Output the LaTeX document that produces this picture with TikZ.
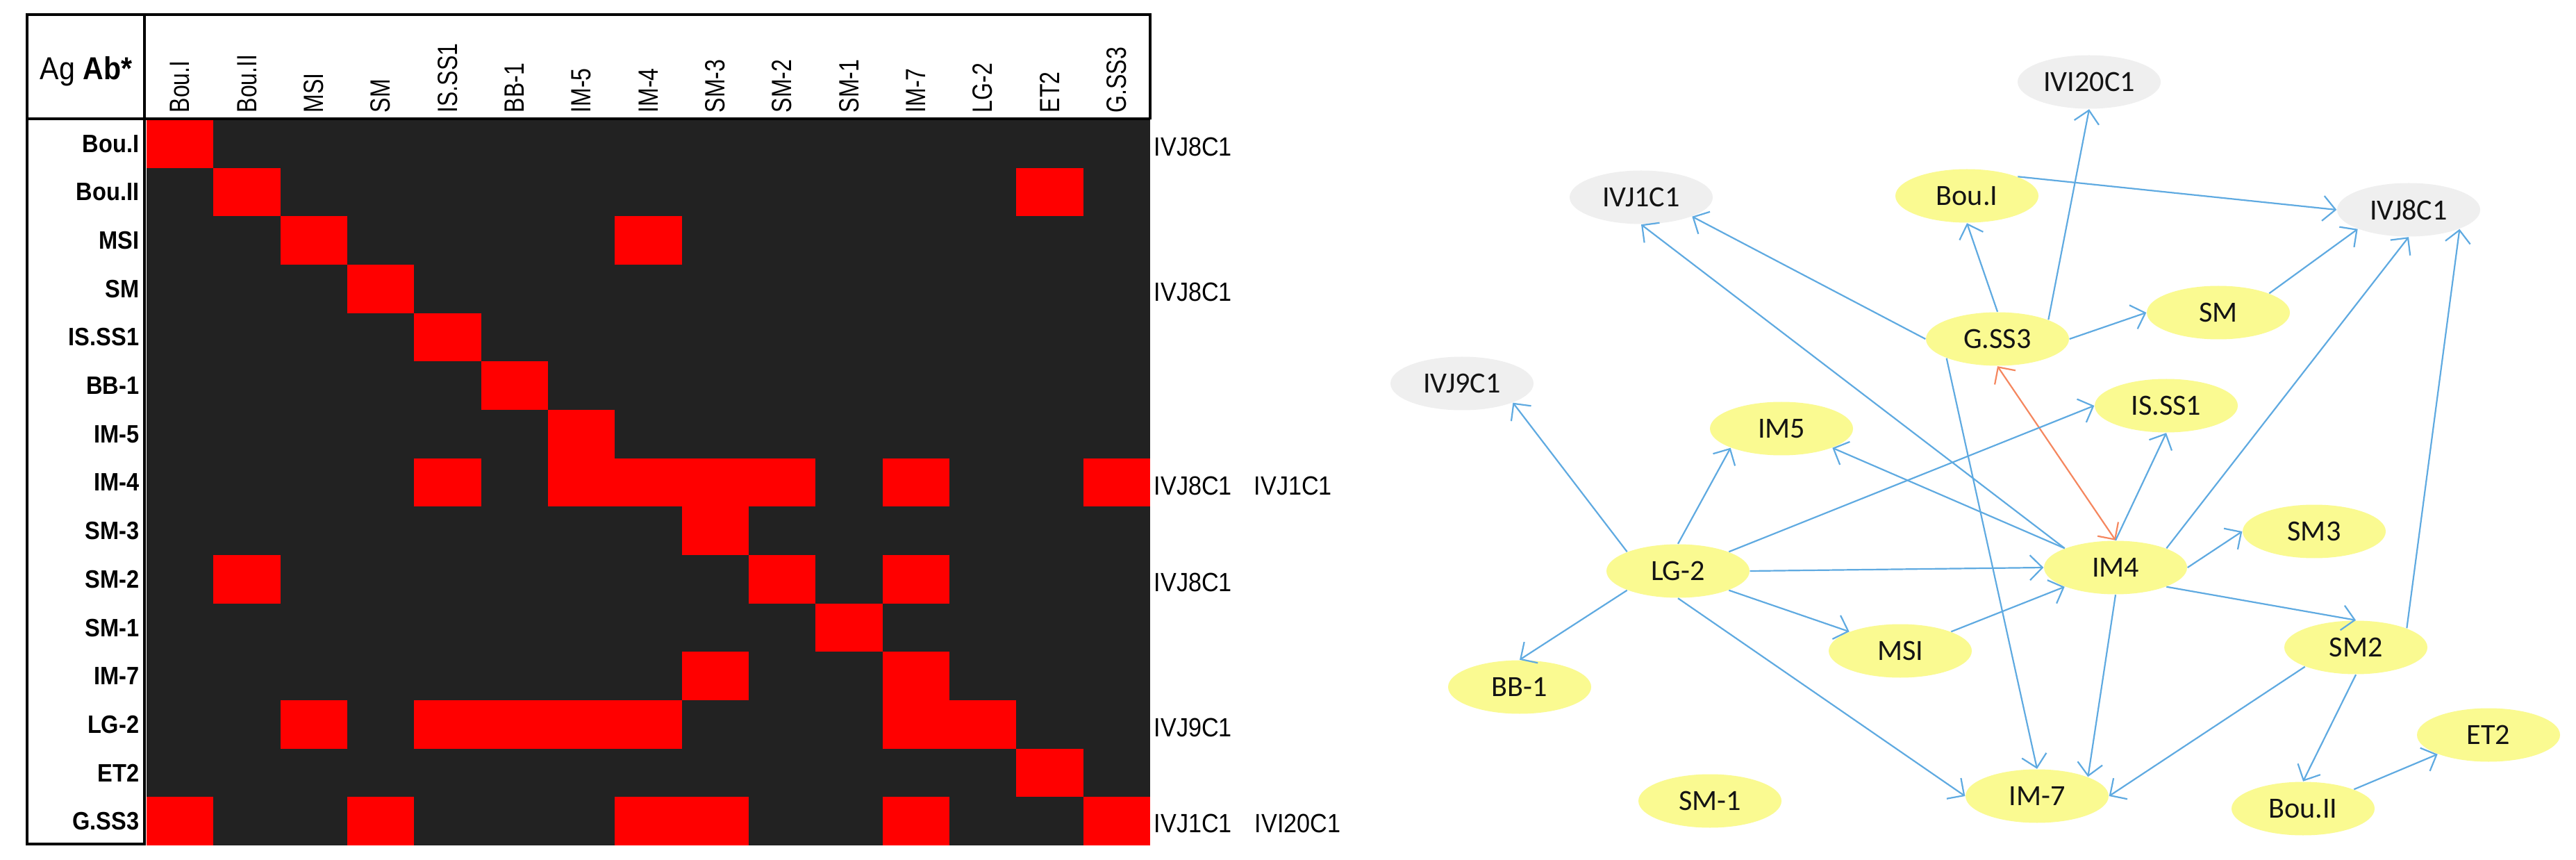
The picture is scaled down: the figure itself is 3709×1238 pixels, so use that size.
\documentclass[tikz,border=0pt]{standalone}
\usepackage{fontspec}
\setmainfont{Liberation Sans}
\newfontfamily\mtxfont[FakeStretch=0.9]{Liberation Sans}
\newfontfamily\hdrfont[FakeStretch=0.8]{Liberation Sans}
\newfontfamily\grfont{Carlito}
\usetikzlibrary{arrows.meta,shapes.geometric}
\definecolor{gridgray}{RGB}{34,34,34}
\definecolor{cellred}{RGB}{255,0,0}
\definecolor{ylw}{RGB}{250,250,145}
\definecolor{lgray}{RGB}{239,239,239}
\definecolor{eblue}{RGB}{95,170,225}
\definecolor{orng}{RGB}{245,135,95}
\tikzset{
  hdr/.style={inner sep=0pt, font=\hdrfont\fontsize{11.4pt}{12pt}\selectfont},
  rowlbl/.style={inner sep=0pt, font=\mtxfont\bfseries\fontsize{10.3pt}{11pt}\selectfont},
  rlbl/.style={inner sep=0pt, anchor=west, font=\mtxfont\fontsize{10.8pt}{11pt}\selectfont},
  gnode/.style={ellipse, fill=ylw, minimum width=20.6mm, minimum height=7.7mm, inner sep=0pt,
    text=black!92, font=\grfont\fontsize{12pt}{13pt}\selectfont},
  anode/.style={gnode, fill=lgray},
  lnk/.style={draw=eblue, line width=0.22mm, -{Straight Barb[length=1.8mm,width=3.6mm]}},
  olnk/.style={draw=orng, line width=0.22mm, {Straight Barb[length=1.8mm,width=3.6mm]}-{Straight Barb[length=1.8mm,width=3.6mm]}},
  frame/.style={line width=0.35mm, black}
}
\begin{document}
\begin{tikzpicture}[x=0.1mm, y=-0.1mm]
\useasboundingbox (0,0) rectangle (3709,1238);
\fill[white] (0,0) rectangle (3709,1238);

% ---------- matrix ----------
\fill[gridgray] (211,172) rectangle (1656,1217);
\foreach \r/\c in {0/0, 1/1, 1/13, 2/2, 2/7, 3/3, 4/4, 5/5, 6/6,
  7/4, 7/6, 7/7, 7/8, 7/9, 7/11, 7/14, 8/8, 9/1, 9/9, 9/11, 10/10,
  11/8, 11/11, 12/2, 12/4, 12/5, 12/6, 12/7, 12/11, 12/12, 13/13,
  14/0, 14/3, 14/7, 14/8, 14/11, 14/14}
  \fill[cellred] ({211+\c*96.33},{172+\r*69.67}) rectangle ++(96.33,69.67);
\draw[frame] (1656,172) -- (1656,21) -- (39,21) -- (39,1215) -- (208,1215) -- (208,21);
\draw[frame] (39,171) -- (1656,171);

\node[inner sep=0pt, anchor=base west, font=\mtxfont\fontsize{13pt}{14pt}\selectfont] (agab) at (57,115) {Ag \textbf{Ab*}};

\foreach \t [count=\i from 0] in {Bou.I,Bou.II,MSI,SM,IS.SS1,BB-1,IM-5,IM-4,SM-3,SM-2,SM-1,IM-7,LG-2,ET2,G.SS3}
  \node[hdr, rotate=90, anchor=west] (col\i) at ({211+(\i+0.5)*96.33},163) {\t};

\foreach \t [count=\i from 0] in {Bou.I,Bou.II,MSI,SM,IS.SS1,BB-1,IM-5,IM-4,SM-3,SM-2,SM-1,IM-7,LG-2,ET2,G.SS3}
  \node[rowlbl, anchor=east] (row\i) at (201,{172+(\i+0.5)*69.67}) {\t};

\node[rlbl] (rl0) at (1661,211) {IVJ8C1};
\node[rlbl] (rl3) at (1661,420) {IVJ8C1};
\node[rlbl] (rl7a) at (1661,699) {IVJ8C1};
\node[rlbl] (rl7b) at (1805,699) {IVJ1C1};
\node[rlbl] (rl9) at (1661,838) {IVJ8C1};
\node[rlbl] (rl12) at (1661,1047) {IVJ9C1};
\node[rlbl] (rl14a) at (1661,1185) {IVJ1C1};
\node[rlbl] (rl14b) at (1806,1185) {IVI20C1};

% ---------- graph ----------
\node[anode] (IVI20) at (3008,118) {IVI20C1};
\node[anode] (IVJ1) at (2363,284) {IVJ1C1};
\node[anode] (IVJ8) at (3468,302) {IVJ8C1};
\node[anode] (IVJ9) at (2105,552) {IVJ9C1};
\node[gnode] (BouI) at (2832,282) {Bou.I};
\node[gnode] (GSS3) at (2876,488) {G.SS3};
\node[gnode] (SM) at (3194,450) {SM};
\node[gnode] (ISSS1) at (3119,584) {IS.SS1};
\node[gnode] (IM5) at (2565,617) {IM5};
\node[gnode] (LG2) at (2416,822) {LG-2};
\node[gnode] (IM4) at (3046,817) {IM4};
\node[gnode] (SM3) at (3332,765) {SM3};
\node[gnode] (MSI) at (2736,937) {MSI};
\node[gnode] (SM2) at (3392,932) {SM2};
\node[gnode] (BB1) at (2188,989) {BB-1};
\node[gnode] (ET2) at (3583,1058) {ET2};
\node[gnode] (SM1) at (2462,1153) {SM-1};
\node[gnode] (IM7) at (2933,1146) {IM-7};
\node[gnode] (BouII) at (3316,1164) {Bou.II};

\draw[lnk] (BouI.north east) -- (IVJ8.west);
\draw[lnk] (GSS3.north) -- (BouI.south);
\draw[lnk] (GSS3.north east) -- (IVI20.south);
\draw[lnk] (GSS3.east) -- (SM.west);
\draw[lnk] (SM.north east) -- (IVJ8.south west);
\draw[lnk] (GSS3.west) -- (IVJ1.south east);
\draw[lnk] (IM4.north west) -- (IVJ1.south);
\draw[lnk] (IM4.north east) -- (IVJ8.south);
\draw[lnk] (SM2.north east) -- (IVJ8.south east);
\draw[olnk] (GSS3.south) -- (IM4.north);
\draw[lnk] (LG2.north east) -- (ISSS1.west);
\draw[lnk] (IM4.north) -- (ISSS1.south);
\draw[lnk] (IM4.north west) -- (IM5.south east);
\draw[lnk] (LG2.north) -- (IM5.south west);
\draw[lnk] (LG2.north west) -- (IVJ9.south east);
\draw[lnk] (LG2.east) -- (IM4.west);
\draw[lnk] (LG2.south west) -- (BB1.north);
\draw[lnk] (LG2.south east) -- (MSI.north west);
\draw[lnk] (LG2.south) -- (IM7.west);
\draw[lnk] (MSI.north east) -- (IM4.south west);
\draw[lnk] (GSS3.south west) -- (IM7.north);
\draw[lnk] (IM4.south) -- (IM7.north east);
\draw[lnk] (SM2.south west) -- (IM7.east);
\draw[lnk] (IM4.east) -- (SM3.west);
\draw[lnk] (IM4.south east) -- (SM2.north);
\draw[lnk] (SM2.south) -- (BouII.north);
\draw[lnk] (BouII.north east) -- (ET2.south west);
\end{tikzpicture}
\end{document}
